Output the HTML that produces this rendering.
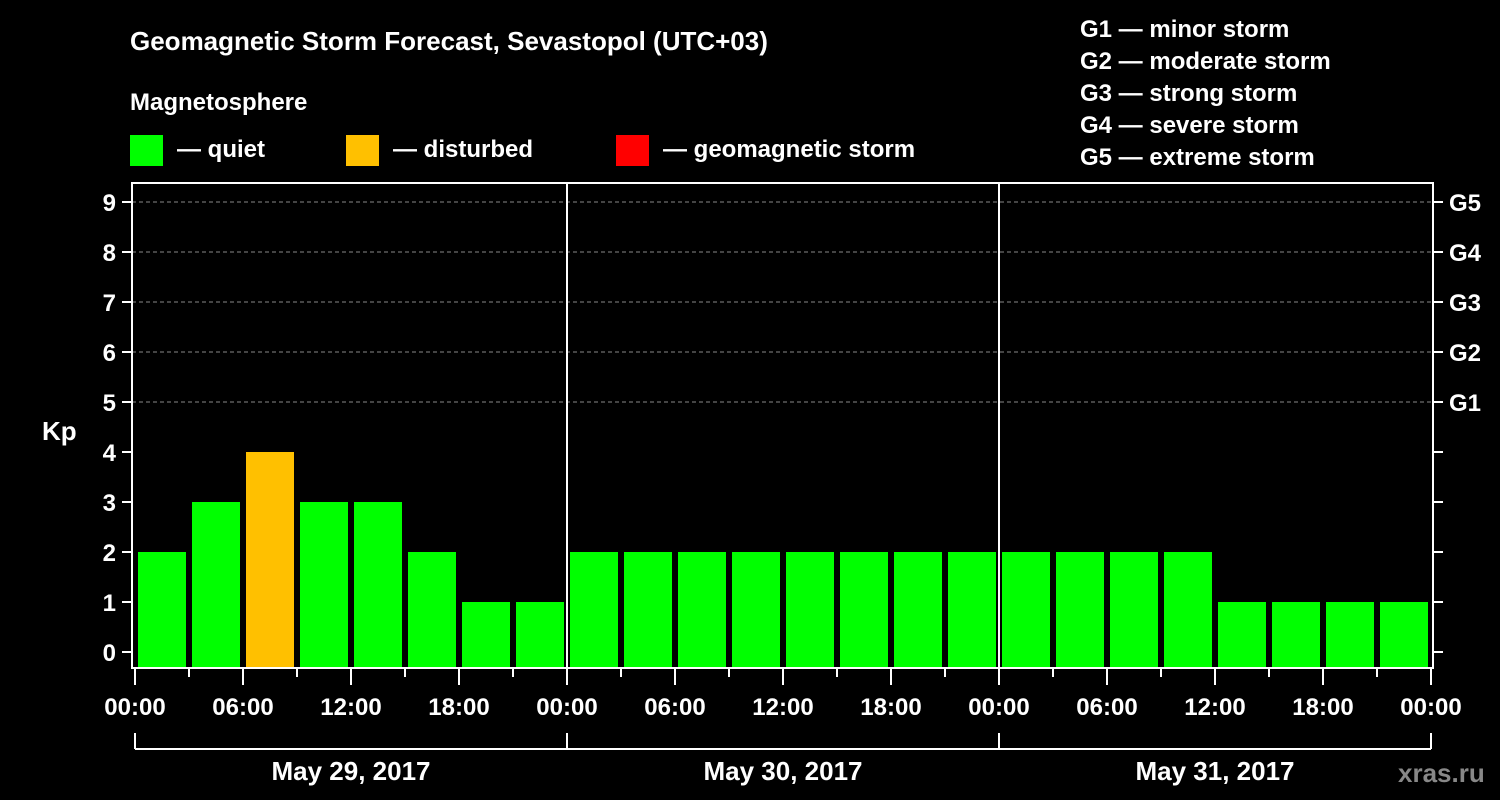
<!DOCTYPE html>
<html><head><meta charset="utf-8"><style>
body{margin:0;background:#000;}
svg{display:block;font-family:"Liberation Sans",sans-serif;font-weight:bold;}
</style></head><body>
<svg id="c" width="1500" height="800" viewBox="0 0 1500 800">
<rect width="1500" height="800" fill="#000"/>
<text x="130" y="50" fill="#fff" font-size="26">Geomagnetic Storm Forecast, Sevastopol (UTC+03)</text>
<text x="130" y="110" fill="#fff" font-size="24">Magnetosphere</text>
<g><rect x="130" y="135" width="33" height="31" fill="#00ff00"/><text x="177" y="157" fill="#fff" font-size="24">— quiet</text></g>
<g><rect x="346" y="135" width="33" height="31" fill="#ffc000"/><text x="393" y="157" fill="#fff" font-size="24">— disturbed</text></g>
<g><rect x="616" y="135" width="33" height="31" fill="#ff0000"/><text x="663" y="157" fill="#fff" font-size="24">— geomagnetic storm</text></g>
<g fill="#fff" font-size="24">
<text x="1080" y="37">G1 — minor storm</text><text x="1080" y="69">G2 — moderate storm</text><text x="1080" y="101">G3 — strong storm</text><text x="1080" y="133">G4 — severe storm</text><text x="1080" y="165">G5 — extreme storm</text></g>
<text x="42" y="440" fill="#fff" font-size="26">Kp</text>
<text x="1398" y="782" fill="#888" font-size="26">xras.ru</text>
<g id="plot"></g>
</svg>
<script>
const kpValues=[2,3,4,3,3,2,1,1, 2,2,2,2,2,2,2,2, 2,2,2,2,1,1,1,1];
const yTicks=[0,1,2,3,4,5,6,7,8,9];
const gLabels=["G1","G2","G3","G4","G5"];
const timeLabels=["00:00","06:00","12:00","18:00","00:00","06:00","12:00","18:00","00:00","06:00","12:00","18:00","00:00"];
const dayLabels=["May 29, 2017","May 30, 2017","May 31, 2017"];
const NS="http://www.w3.org/2000/svg";
const g=document.getElementById('plot');
const X0=135,SLOT=54;
const y=v=>652-50*v;
const x=i=>X0+SLOT*i;
function mk(t,a){const e=document.createElementNS(NS,t);for(const k in a)e.setAttribute(k,a[k]);g.appendChild(e);return e;}
// gridlines
for(let v=5;v<=9;v++){const l=mk('line',{x1:132,x2:1433,y1:y(v),y2:y(v),stroke:'#888','stroke-dasharray':'4,3','stroke-width':1});

}
// bars
kpValues.forEach((v,i)=>{const col=v>=5?'#ff0000':(v>=4?'#ffc000':'#00ff00');
const r=mk('rect',{x:x(i)+3,y:y(v),width:48,height:668-y(v),fill:col});

});
// frame
const f=mk('rect',{x:132,y:183,width:1301,height:485,fill:'none',stroke:'#fff','stroke-width':2});


[1,2].forEach(d=>{const l=mk('line',{x1:x(8*d),x2:x(8*d),y1:183,y2:668,stroke:'#fff','stroke-width':2});

});
// y ticks
yTicks.forEach(v=>{mk('line',{x1:122,x2:132,y1:y(v),y2:y(v),stroke:'#fff','stroke-width':2});
mk('line',{x1:1433,x2:1443,y1:y(v),y2:y(v),stroke:'#fff','stroke-width':2});
const t=mk('text',{x:116,y:y(v)+9,fill:'#fff','font-size':24,'text-anchor':'end'});t.textContent=v;

});
gLabels.forEach((s,i)=>{const t=mk('text',{x:1449,y:y(5+i)+9,fill:'#fff','font-size':24});t.textContent=s;

});
// x ticks
for(let i=0;i<=24;i++){const major=i%2==0;mk('line',{x1:x(i),x2:x(i),y1:668,y2:major?685:677,stroke:'#fff','stroke-width':2});}
timeLabels.forEach((s,i)=>{const t=mk('text',{x:x(2*i),y:715,fill:'#fff','font-size':24,'text-anchor':'middle'});t.textContent=s;

});
mk('line',{x1:x(0),x2:x(24),y1:749,y2:749,stroke:'#fff','stroke-width':2});
for(let d=0;d<=3;d++)mk('line',{x1:x(8*d),x2:x(8*d),y1:733,y2:749,stroke:'#fff','stroke-width':2});
dayLabels.forEach((s,d)=>{const t=mk('text',{x:x(8*d+4),y:780,fill:'#fff','font-size':26,'text-anchor':'middle'});t.textContent=s;

});
</script>
</body></html>
